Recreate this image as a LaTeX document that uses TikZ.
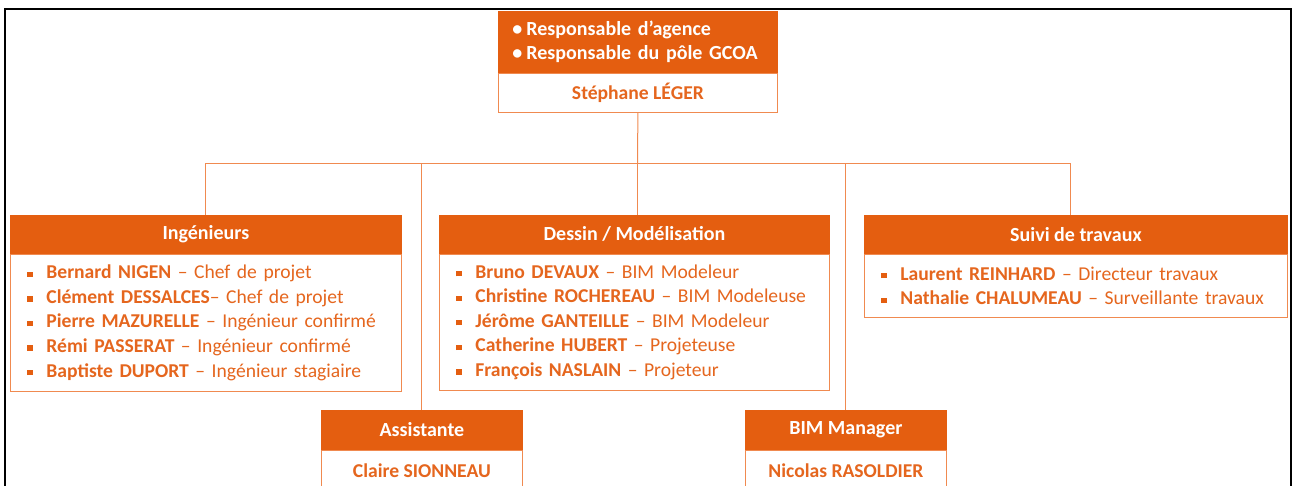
\documentclass[tikz,border=0pt]{standalone}
\usepackage{fontspec}
\setmainfont{Carlito}
\usetikzlibrary{positioning}
\definecolor{orangeF}{RGB}{228,94,16}
\definecolor{orangeT}{RGB}{229,102,30}
\definecolor{orangeL}{RGB}{240,138,80}
\newcommand\puce{\makebox[14.25pt][l]{\textcolor{orangeF}{\rule[0.1em]{3.9pt}{3.9pt}}}}
\newcommand\rond{\makebox[10.5pt][l]{•}}
\def\u{0.75pt}
\begin{document}
\begin{tikzpicture}[x=0.75pt,y=0.75pt,yscale=-1,
  entete/.style={fill=orangeF, draw=orangeF, line width=0.6pt, text=white, inner sep=0pt,
    font=\fontsize{15}{18}\selectfont\bfseries, anchor=north west},
  corps/.style={fill=white, draw=orangeL, line width=0.75pt, text=orangeT, inner ysep=0pt,
    font=\fontsize{14.7}{18.4}\selectfont},
  nom/.style={font=\fontsize{14.7}{18.4}\selectfont\bfseries},
  lien/.style={draw=orangeL, line width=0.75pt}]

\useasboundingbox (0,0) rectangle (1294,485);

%Cadre
\draw [black, line width=1.5pt] (5,495) -- (5,9.5) -- (1291,9.5) -- (1291,495);

%Responsable
\node [entete, minimum width=279*\u, minimum height=61*\u, text width=251*\u, inner xsep=14*\u, align=left] (chefH) at (498,11)
  {\rond Responsable d’agence\\ \rond Responsable du pôle GCOA};
\node [corps, nom, below=0pt of chefH, minimum width=279*\u, minimum height=39*\u] (chefB) {Stéphane LÉGER};

%Ingenieurs
\node [entete, minimum width=391*\u, minimum height=38*\u] (ingH) at (10,215) {Ingénieurs};
\node [corps, below=0pt of ingH, text width=357*\u, inner xsep=17*\u, minimum height=137*\u, align=left] (ingB)
  {\puce\textbf{Bernard NIGEN} – Chef de projet\\
   \puce\textbf{Clément DESSALCES}– Chef de projet\\
   \puce\textbf{Pierre MAZURELLE} – Ingénieur confirmé\\
   \puce\textbf{Rémi PASSERAT} – Ingénieur confirmé\\
   \puce\textbf{Baptiste DUPORT} – Ingénieur stagiaire};

%Dessin
\node [entete, minimum width=390*\u, minimum height=38*\u] (desH) at (439,215) {Dessin / Modélisation};
\node [corps, below=0pt of desH, text width=356*\u, inner xsep=17*\u, minimum height=136*\u, align=left] (desB)
  {\puce\textbf{Bruno DEVAUX} – BIM Modeleur\\
   \puce\textbf{Christine ROCHEREAU} – BIM Modeleuse\\
   \puce\textbf{Jérôme GANTEILLE} – BIM Modeleur\\
   \puce\textbf{Catherine HUBERT} – Projeteuse\\
   \puce\textbf{François NASLAIN} – Projeteur};

%Suivi
\node [entete, minimum width=423*\u, minimum height=38*\u] (susH) at (864,215) {Suivi de travaux};
\node [corps, below=0pt of susH, text width=389*\u, inner xsep=17*\u, minimum height=63*\u, align=left] (susB)
  {\puce\textbf{Laurent REINHARD} – Directeur travaux\\
   \puce\textbf{Nathalie CHALUMEAU} – Surveillante travaux};

%Assistante et BIM
\node [entete, minimum width=201*\u, minimum height=39*\u] (assH) at (321,410) {Assistante};
\node [corps, nom, below=0pt of assH, minimum width=201*\u, minimum height=40*\u] (assB) {Claire SIONNEAU};
\node [entete, minimum width=201*\u, minimum height=39*\u] (bimH) at (745,410) {BIM Manager};
\node [corps, nom, below=0pt of bimH, minimum width=201*\u, minimum height=40*\u] (bimB) {Nicolas RASOLDIER};

%Liens
\coordinate (bus) at (637.5,163);
\draw [lien] (chefB.south) -- (bus);
\draw [lien] (ingH.north) |- (bus);
\draw [lien] ([xshift=-5.5*\u]susH.north) |- (bus);
\draw [lien] ([xshift=3.5*\u]desH.north) -- ([xshift=3.5*\u]desH.north |- bus);
\draw [lien] (assH.north) -- (assH.north |- bus);
\draw [lien] (bimH.north) -- (bimH.north |- bus);

\end{tikzpicture}
\end{document}
